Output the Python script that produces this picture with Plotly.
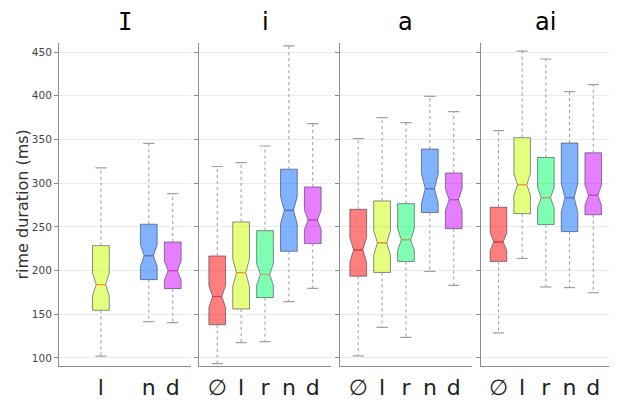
import plotly.graph_objects as go

# ---------------- data ----------------
panels = ["I", "i", "a", "ai"]
categories = ["∅", "l", "r", "n", "d"]

lower = [
    [None, 102.0, None, 141.5, 140.5],
    [93.5, 117.5, 118.7, 164.4, 179.7],
    [102.3, 135.0, 123.6, 199.0, 183.0],
    [128.6, 213.8, 181.2, 180.5, 174.7],
]
q1 = [
    [None, 154.5, None, 189.6, 179.3],
    [138.0, 156.0, 169.0, 222.0, 230.8],
    [193.6, 197.8, 210.4, 266.4, 247.9],
    [210.4, 265.1, 252.7, 244.5, 263.8],
]
median = [
    [None, 184.0, None, 217.0, 200.0],
    [170.3, 197.6, 195.5, 268.9, 258.0],
    [223.7, 231.7, 235.3, 293.7, 281.1],
    [232.9, 298.3, 283.4, 283.4, 286.1],
]
q3 = [
    [None, 228.5, None, 253.0, 232.7],
    [216.7, 255.6, 245.6, 316.0, 295.6],
    [270.0, 279.6, 276.5, 339.0, 311.6],
    [272.4, 352.0, 329.3, 345.9, 334.7],
]
upper = [
    [None, 317.5, None, 345.5, 288.0],
    [319.0, 323.4, 342.5, 457.0, 368.0],
    [351.0, 375.0, 369.2, 399.3, 381.8],
    [360.0, 451.0, 442.0, 404.6, 412.6],
]
notch = [
    [None, 13.0, None, 12.5, 11.0],
    [12.5, 16.0, 12.5, 15.5, 11.0],
    [14.0, 14.0, 12.5, 16.7, 12.5],
    [10.0, 12.5, 12.0, 16.6, 11.5],
]
y_title = "rime duration (ms)"

# ---------------- style ----------------
fill_colors = ["rgba(255,0,0,0.5)", "rgba(204,255,0,0.5)", "rgba(0,255,102,0.5)",
               "rgba(0,102,255,0.5)", "rgba(204,0,255,0.5)"]
median_colors = ["#F03535", "#F2A020", "#D09A55", "#5E6BD8", "#D63AD0"]
outline = "rgba(30,30,50,0.5)"
axis_col = "#8c8c8c"
domains = [[0.0, 0.2386], [0.2542, 0.4922], [0.5096, 0.7476], [0.764, 1.0]]
title_fonts = ["DejaVu Sans Mono", "DejaVu Sans", "DejaVu Sans", "DejaVu Sans"]
BOX_W = 0.7
NOTCH_W = 0.22
YRANGE = [90.8, 460.3]

fig = go.Figure()

for p, pname in enumerate(panels):
    xa = "x" if p == 0 else f"x{p + 1}"
    ya = "y" if p == 0 else f"y{p + 1}"
    for c, cat in enumerate(categories):
        if median[p][c] is None:
            continue
        # dotted whiskers
        fig.add_trace(go.Scatter(
            x=[c, c, None, c, c],
            y=[q3[p][c], upper[p][c], None, q1[p][c], lower[p][c]],
            mode="lines", line=dict(color="#9a9a9a", width=1, dash="dot"),
            xaxis=xa, yaxis=ya, hoverinfo="skip", showlegend=False))
        # whisker caps
        fig.add_trace(go.Scatter(
            x=[c, c], y=[upper[p][c], lower[p][c]], mode="markers",
            marker=dict(symbol="line-ew", size=8, line=dict(color="#a0a0a0", width=1.2)),
            xaxis=xa, yaxis=ya, hoverinfo="skip", showlegend=False))
        # notched box
        fig.add_trace(go.Box(
            x=[c], q1=[q1[p][c]], median=[median[p][c]], q3=[q3[p][c]],
            lowerfence=[q1[p][c]], upperfence=[q3[p][c]],
            notched=True, notchspan=[notch[p][c]], notchwidth=NOTCH_W,
            width=BOX_W, whiskerwidth=0, fillcolor=fill_colors[c],
            line=dict(color=outline, width=1), boxpoints=False,
            xaxis=xa, yaxis=ya, hoverinfo="skip", showlegend=False, name=cat))
        # coloured median line
        half = BOX_W / 2 * (1 - 2 * NOTCH_W)
        fig.add_trace(go.Scatter(
            x=[c - half, c + half], y=[median[p][c], median[p][c]], mode="lines",
            line=dict(color=median_colors[c], width=1.2),
            xaxis=xa, yaxis=ya, hoverinfo="skip", showlegend=False))

    present = [c for c in range(len(categories)) if median[p][c] is not None]
    xkey = "xaxis" if p == 0 else f"xaxis{p + 1}"
    ykey = "yaxis" if p == 0 else f"yaxis{p + 1}"
    fig.layout[xkey] = dict(
        domain=domains[p], anchor=ya, type="linear", range=[-0.75, 4.75],
        tickmode="array", tickvals=present, ticktext=[categories[c] for c in present],
        showgrid=False, zeroline=False, showline=True, linecolor=axis_col, linewidth=1,
        ticks="", tickfont=dict(size=22, color="#222222"), automargin=False,
        ticklabelstandoff=2, fixedrange=True)
    fig.layout[ykey] = dict(
        domain=[0, 1], anchor=xa, range=YRANGE, tickmode="linear", tick0=100, dtick=50,
        showgrid=True, gridcolor="#ebebeb", gridwidth=1, zeroline=False,
        showline=True, linecolor=axis_col, linewidth=1,
        ticks="outside", ticklen=4, tickcolor=axis_col, automargin=False,
        showticklabels=(p == 0), tickfont=dict(size=10.5, color="#444444"))
    fig.add_annotation(
        text=pname, xref="paper", yref="paper",
        x=(domains[p][0] + domains[p][1]) / 2, y=1, yshift=21,
        xanchor="center", yanchor="middle", showarrow=False,
        font=dict(size=24, color="#000000", family=title_fonts[p]))

fig.add_annotation(
    text=y_title, xref="paper", yref="paper", x=0, y=0.5, xshift=-37,
    xanchor="center", yanchor="middle", textangle=-90, showarrow=False,
    font=dict(size=16, color="#333333"))

fig.update_layout(
    width=617, height=400,
    margin=dict(l=51, r=14, t=35, b=42, autoexpand=False),
    paper_bgcolor="white", plot_bgcolor="white",
    font=dict(family="DejaVu Sans", color="#444444"),
    showlegend=False,
)

fig.write_html("out.html")
